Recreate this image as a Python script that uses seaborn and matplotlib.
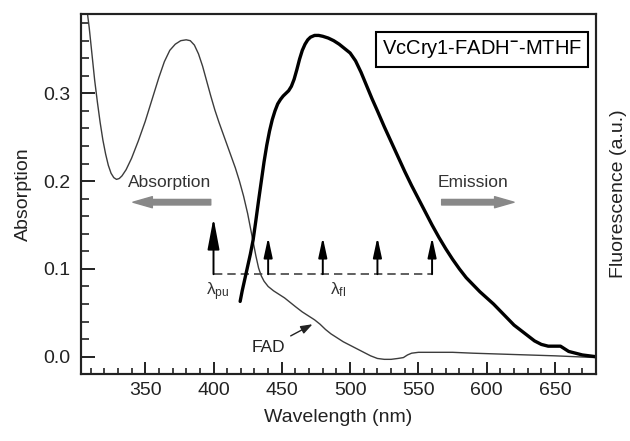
import matplotlib
matplotlib.use("Agg")
import matplotlib.pyplot as plt
import seaborn as sns
import pandas as pd
from matplotlib.ticker import MultipleLocator

# ---------------- data ----------------
abs_wl = [303, 305, 307, 309, 311, 313, 315, 317, 319, 321, 323, 325, 327, 329,
          331, 333, 336, 340, 345, 350, 355, 360, 364, 368, 372, 376, 380, 383,
          386, 389, 392, 395, 398, 401, 404, 407, 410, 413, 416, 419, 422, 425,
          428, 431, 433, 435, 437, 440, 444, 448, 452, 456, 460, 465, 470, 474,
          478, 482, 486, 490, 495, 500, 505, 510, 515, 520, 525, 530, 535, 539,
          542, 545, 550, 560, 575, 590, 610, 630, 650, 665, 680]
abs_val = [0.45, 0.42, 0.40, 0.375, 0.345, 0.315, 0.29, 0.267, 0.247, 0.231,
           0.218, 0.209, 0.204, 0.202, 0.203, 0.206, 0.213, 0.226, 0.246, 0.268,
           0.293, 0.318, 0.336, 0.349, 0.356, 0.36, 0.361, 0.36, 0.355, 0.345,
           0.331, 0.314, 0.297, 0.281, 0.267, 0.254, 0.241, 0.228, 0.215, 0.2,
           0.183, 0.163, 0.139, 0.115, 0.101, 0.092, 0.086, 0.080, 0.075, 0.071,
           0.067, 0.062, 0.057, 0.051, 0.046, 0.042, 0.037, 0.031, 0.026, 0.022,
           0.017, 0.013, 0.009, 0.005, 0.001, -0.002, -0.003, -0.003, -0.002,
           -0.001, 0.002, 0.004, 0.005, 0.005, 0.005, 0.004, 0.003, 0.002, 0.001,
           0.0, -0.001]

em_wl = [419.5, 421, 423, 425, 427, 429, 431, 433, 435, 437, 439, 441, 443, 445,
         447, 449, 451, 453, 455, 457, 459, 461, 463, 465, 467, 469, 471, 474,
         477, 480, 484, 488, 492, 496, 500, 504, 508, 512, 516, 520, 525, 530,
         535, 540, 545, 550, 555, 560, 565, 570, 575, 580, 585, 590, 595, 600,
         605, 610, 615, 620, 625, 630, 635, 640, 645, 650, 654, 657, 660, 665,
         670, 675, 680]
em_val = [0.063, 0.075, 0.089, 0.103, 0.117, 0.133, 0.155, 0.178, 0.2, 0.222,
          0.241, 0.257, 0.27, 0.28, 0.288, 0.293, 0.297, 0.3, 0.303, 0.308,
          0.316, 0.327, 0.339, 0.349, 0.356, 0.361, 0.364, 0.366, 0.366, 0.365,
          0.363, 0.36, 0.356, 0.351, 0.346, 0.337, 0.324, 0.309, 0.294, 0.28,
          0.262, 0.245, 0.228, 0.211, 0.195, 0.18, 0.165, 0.15, 0.136, 0.123,
          0.111, 0.1, 0.09, 0.082, 0.074, 0.067, 0.06, 0.052, 0.044, 0.036,
          0.03, 0.024, 0.018, 0.014, 0.012, 0.012, 0.012, 0.009, 0.006, 0.004,
          0.002, 0.001, 0.0]

probe_wl = [440, 480, 520, 560]
pump_wl = 400

x_ticks = [350, 400, 450, 500, 550, 600, 650]
y_ticks = [0.0, 0.1, 0.2, 0.3]

abs_df = pd.DataFrame({"wl": abs_wl, "val": abs_val})
em_df = pd.DataFrame({"wl": em_wl, "val": em_val})

# ---------------- style ----------------
sns.set_theme(style="ticks")
plt.rcParams["font.family"] = ["Liberation Sans", "DejaVu Sans"]
plt.rcParams["mathtext.fontset"] = "custom"
plt.rcParams["mathtext.rm"] = "Liberation Sans"
plt.rcParams["mathtext.it"] = "Liberation Sans:italic"
plt.rcParams["mathtext.bf"] = "Liberation Sans:bold"

fig = plt.figure(figsize=(6.3, 4.41), dpi=100)
ax = fig.add_axes([81/630, 1-374/441, (596-81)/630, (374-14)/441])

xlim = (303, 680)
ylim = (-0.0197, 0.3904)

sns.lineplot(data=abs_df, x="wl", y="val", ax=ax, color="#3c3c3c", lw=1.0,
             sort=False, estimator=None)
ax.set_xlim(*xlim)
ax.set_ylim(*ylim)

ax2 = ax.twinx()
sns.lineplot(data=em_df, x="wl", y="val", ax=ax2, color="black", lw=2.4,
             sort=False, estimator=None)
ax2.set_ylim(*ylim)
ax2.set_xlim(*xlim)
ax2.set_yticks([])
ax2.set_ylabel("Fluorescence (a.u.)", fontsize=14, labelpad=10, color="#222222")

for a in (ax, ax2):
    for s in a.spines.values():
        s.set_linewidth(1.5)
        s.set_color("#222222")

ax.set_xticks(x_ticks)
ax.set_yticks(y_ticks)
ax.set_yticklabels([f"{v:.1f}" for v in y_ticks])
ax.xaxis.set_minor_locator(MultipleLocator(10))
ax.yaxis.set_minor_locator(MultipleLocator(0.02))
ax.tick_params(axis="x", which="major", direction="in", length=9, width=1.4,
               labelsize=14, pad=6, top=False, colors="#222222")
ax.tick_params(axis="x", which="minor", direction="in", length=4.5, width=1.2,
               top=False, colors="#222222")
ax.tick_params(axis="y", which="major", direction="in", length=10, width=1.4,
               labelsize=14, pad=8, right=False, colors="#222222")
ax.tick_params(axis="y", which="minor", direction="in", length=6, width=1.2,
               right=False, colors="#222222")
ax.set_xlabel("Wavelength (nm)", fontsize=14, labelpad=7, color="#222222")
ax.set_ylabel("Absorption", fontsize=14, labelpad=8, color="#222222")

# pump / probe scheme
dash_y = 0.094
ax.plot([pump_wl, probe_wl[-1]], [dash_y, dash_y], color="#444444", lw=1.2,
        ls=(0, (5, 3)))
ax.annotate("", xy=(pump_wl, 0.158), xytext=(pump_wl, dash_y),
            arrowprops=dict(arrowstyle="-|>,head_length=19,head_width=3.6",
                            mutation_scale=1, color="black", lw=1.4,
                            shrinkA=0, shrinkB=0))
for w in probe_wl:
    ax.annotate("", xy=(w, 0.136), xytext=(w, dash_y),
                arrowprops=dict(arrowstyle="-|>,head_length=12,head_width=2.6",
                                mutation_scale=1, color="black", lw=1.4,
                                shrinkA=0, shrinkB=0))
ax.text(403, 0.074, "λ$_{\\mathrm{pu}}$", fontsize=12.5, ha="center", va="center",
        color="#333333")
ax.text(491, 0.076, "λ$_{\\mathrm{fl}}$", fontsize=12.5, ha="center", va="center",
        color="#333333")

# gray direction arrows
ax.text(368, 0.198, "Absorption", fontsize=12.5, ha="center", va="center",
        color="#333333")
ax.annotate("", xy=(341, 0.176), xytext=(398, 0.176),
            arrowprops=dict(arrowstyle="simple,head_length=14,head_width=8,tail_width=4",
                            mutation_scale=1, color="#888888", shrinkA=0, shrinkB=0))
ax.text(590, 0.198, "Emission", fontsize=12.5, ha="center", va="center",
        color="#333333")
ax.annotate("", xy=(620, 0.176), xytext=(567, 0.176),
            arrowprops=dict(arrowstyle="simple,head_length=14,head_width=8,tail_width=4",
                            mutation_scale=1, color="#888888", shrinkA=0, shrinkB=0))

# FAD annotation
ax.annotate("FAD", xy=(472.5, 0.037), xytext=(440, 0.010), fontsize=12.5,
            ha="center", va="center", color="#222222",
            arrowprops=dict(arrowstyle="-|>,head_length=7,head_width=2.5",
                            mutation_scale=1, color="#222222", lw=1.0,
                            shrinkA=2, shrinkB=0))

# sample label box
ax.text(596.7, 0.350, "VcCry1-FADH$^{\\mathbf{-}}$-MTHF", fontsize=14.5,
        ha="center", va="center", color="black",
        bbox=dict(boxstyle="square,pad=0.3", fc="white", ec="black", lw=1.5))

fig.savefig("out.png", dpi=100)
